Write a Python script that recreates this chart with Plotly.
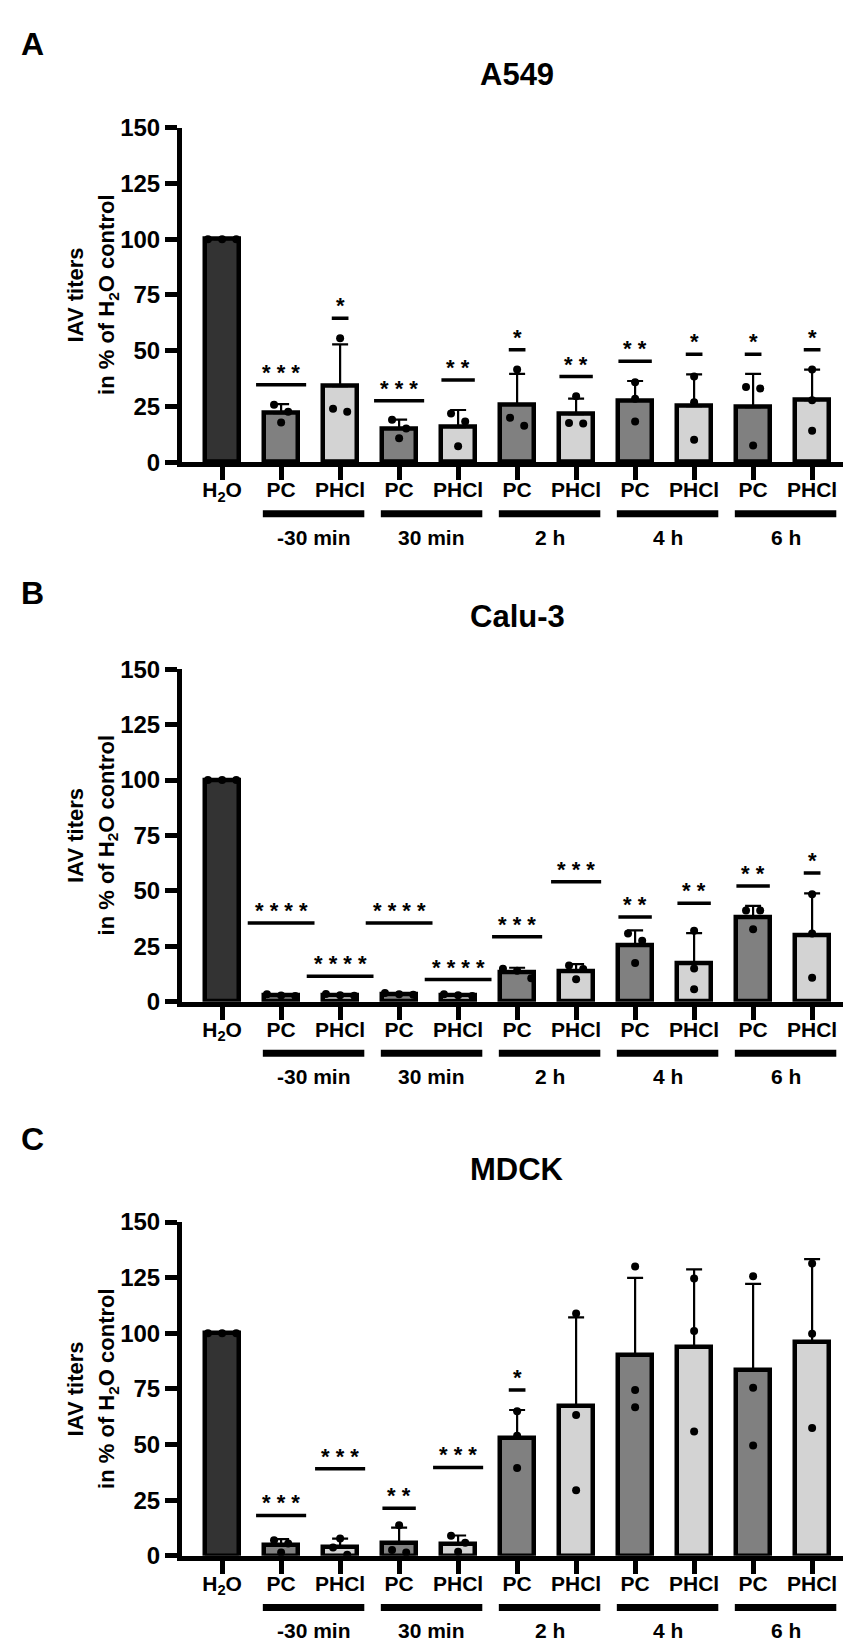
import plotly.graph_objects as go

# categories / labels
tick_labels = ["H<sub>2</sub>O"] + ["PC", "PHCl"] * 5
time_groups = ["-30 min", "30 min", "2 h", "4 h", "6 h"]
panel_titles = ["A549", "Calu-3", "MDCK"]
panel_letters = ["A", "B", "C"]

# A549 (% of H2O control)
a549_mean = [100, 22.0, 34.1, 14.9, 15.7, 25.9, 21.5, 27.5, 25.1, 24.7, 27.8]
a549_sd = [0, 4.0, 18.7, 4.2, 7.7, 13.7, 7.0, 8.9, 14.3, 14.9, 13.7]
a549_points = [
    [100, 100, 100], [25.7, 22.6, 17.8], [55.6, 22.6, 24.0], [19.0, 15.1, 10.7],
    [21.8, 18.2, 7.1], [41.6, 19.9, 16.3], [29.6, 17.3, 17.6], [35.9, 28.4, 18.2],
    [38.4, 26.9, 10.0], [33.7, 33.0, 7.5], [41.6, 27.8, 14.1],
]
a549_sig_y = [None, 34.7, 64.5, 27.6, 36.8, 50.4, 38.4, 45.3, 48.4, 48.4, 50.4]
a549_sig = ["", "***", "*", "***", "**", "*", "**", "**", "*", "*", "*"]

# Calu-3
calu3_mean = [100, 3.0, 3.0, 3.5, 3.0, 13.1, 13.7, 25.3, 17.5, 38.3, 30.0]
calu3_sd = [0, 0.4, 0.4, 0.4, 0.4, 2.2, 3.2, 6.9, 13.4, 4.9, 18.9]
calu3_points = [
    [100, 100, 100], [3.4, 2.8, 2.6], [3.5, 2.9, 2.7], [3.9, 3.4, 3.1],
    [3.4, 2.9, 2.6], [14.9, 14.0, 10.6], [16.3, 14.8, 10.1], [30.8, 27.5, 17.5],
    [32.0, 15.0, 5.6], [41.1, 41.1, 32.7], [48.5, 30.8, 10.8],
]
calu3_sig_y = [None, 35.5, 11.5, 35.5, 10.0, 29.3, 54.1, 38.2, 44.4, 52.2, 58.1]
calu3_sig = ["", "****", "****", "****", "****", "***", "***", "**", "**", "**", "*"]

# MDCK
mdck_mean = [100, 4.7, 4.0, 5.9, 5.5, 52.7, 67.2, 90.4, 93.8, 83.5, 96.2]
mdck_sd = [0, 2.8, 3.7, 6.7, 3.6, 12.8, 39.9, 34.5, 34.9, 38.7, 37.1]
mdck_points = [
    [100, 100, 100], [7.0, 5.5, 1.5], [7.8, 3.7, 0.5], [13.7, 2.6, 1.5],
    [9.0, 5.8, 1.8], [64.9, 53.9, 39.4], [108.9, 63.3, 29.4], [130.0, 74.5, 66.7],
    [124.6, 101.0, 55.9], [125.6, 75.5, 49.5], [131.4, 99.8, 57.4],
]
mdck_sig_y = [None, 18.1, 39.1, 21.3, 39.7, 74.5, None, None, None, None, None]
mdck_sig = ["", "***", "***", "**", "***", "*", "", "", "", "", ""]

panels = [
    (a549_mean, a549_sd, a549_points, a549_sig_y, a549_sig),
    (calu3_mean, calu3_sd, calu3_points, calu3_sig_y, calu3_sig),
    (mdck_mean, mdck_sd, mdck_points, mdck_sig_y, mdck_sig),
]

# layout constants (pixels in the 851x1648 page)
W, H = 851, 1648
ML, MR = 174, 5
PW = W - ML - MR
zero_px = [447.5, 996, 1559.3]
top_px = [107.5, 658, 1220]
letter_px = [22, 581, 1136]
XR = [-0.68, 10.71]
FONT = "Liberation Sans, Arial, sans-serif"
fills = ["#333333"] + ["#808080", "#d3d3d3"] * 5


def px_x(px):
    """page pixel -> paper x"""
    return (px - ML) / PW


def cat_dom(x):
    """category position -> x domain fraction"""
    return (x - XR[0]) / (XR[1] - XR[0])


def spread(vals, tol=4.0, step=0.24):
    """Horizontal offsets for dots that would overlap."""
    order = sorted(range(len(vals)), key=lambda k: -vals[k])
    offs = [0.0] * len(vals)
    clusters = []
    for k in order:
        if clusters and vals[clusters[-1][-1]] - vals[k] < tol:
            clusters[-1].append(k)
        else:
            clusters.append([k])
    for c in clusters:
        for j, k in enumerate(c):
            offs[k] = (j - (len(c) - 1) / 2) * step
    return offs


fig = go.Figure()
shapes = []
annotations = []
xs = list(range(len(tick_labels)))

for p, (mean, sd, points, sig_y, sig) in enumerate(panels):
    sfx = "" if p == 0 else str(p + 1)
    xref, yref = "x" + sfx, "y" + sfx
    dom = yref + " domain"

    fig.add_trace(go.Bar(
        x=xs, y=mean, width=0.57, xaxis=xref, yaxis=yref,
        marker=dict(color=fills, line=dict(color="black", width=4.5)),
        error_y=dict(type="data", symmetric=False, array=sd, arrayminus=[0] * len(sd),
                     color="black", thickness=2.2, width=8),
        showlegend=False, hoverinfo="skip",
    ))

    px_, py_ = [], []
    for i, vals in enumerate(points):
        for off, v in zip(spread(vals), vals):
            px_.append(i + off)
            py_.append(v)
    fig.add_trace(go.Scatter(
        x=px_, y=py_, mode="markers", xaxis=xref, yaxis=yref,
        marker=dict(color="black", size=8), showlegend=False, hoverinfo="skip",
    ))

    # significance lines and stars
    for i, (ly, s) in enumerate(zip(sig_y, sig)):
        if not s:
            continue
        half = len(s) * 0.1415
        shapes.append(dict(type="line", xref=xref, yref=yref, x0=i - half, x1=i + half,
                           y0=ly, y1=ly, line=dict(color="black", width=3.5)))
        annotations.append(dict(xref=xref, yref=yref, x=i, y=ly, text=" ".join(s),
                                showarrow=False, yanchor="bottom", yshift=-2,
                                font=dict(family=FONT, size=22, color="black", weight="bold")))

    # time group bars under the PC / PHCl pairs
    line_y = 1 - (zero_px[p] + 52.5) / H
    for g, name in enumerate(time_groups):
        mid = 1.5 + 2 * g + 0.05
        shapes.append(dict(type="line", xref="x domain" if p == 0 else "x%d domain" % (p + 1),
                           yref="paper", x0=cat_dom(mid - 0.86), x1=cat_dom(mid + 0.86),
                           y0=line_y, y1=line_y, line=dict(color="black", width=7)))
        annotations.append(dict(xref=xref, yref=yref, x=mid, y=0, yshift=-75,
                                text=name, showarrow=False, yanchor="middle",
                                font=dict(family=FONT, size=21, color="black", weight="bold")))

    # titles, panel letter, y title
    annotations.append(dict(xref="paper", yref=dom, x=px_x(509), y=1, yshift=53,
                            text=panel_titles[p], showarrow=False, yanchor="middle",
                            font=dict(family=FONT, size=31, color="black", weight="bold")))
    annotations.append(dict(xref="paper", yref="paper", x=px_x(11), y=1 - letter_px[p] / H,
                            text=panel_letters[p], showarrow=False, xanchor="left",
                            yanchor="middle",
                            font=dict(family=FONT, size=32, color="black", weight="bold")))
    for lx, line in [(53, "IAV titers"), (84, "in % of H<sub>2</sub>O control")]:
        annotations.append(dict(xref="paper", yref=dom, x=px_x(lx), y=0.5, text=line,
                                textangle=-90, showarrow=False,
                                font=dict(family=FONT, size=22, color="black", weight="bold")))

    axis_common = dict(showline=True, linecolor="black", linewidth=5, ticks="outside",
                       tickcolor="black", tickwidth=5, showgrid=False, zeroline=False,
                       fixedrange=True)
    fig.update_layout(**{
        "xaxis" + sfx: dict(axis_common, anchor=yref, domain=[0, 1], range=XR,
                            tickvals=xs, ticktext=tick_labels, ticklen=13,
                            ticklabelstandoff=-8,
                            tickfont=dict(family=FONT, size=21, color="black", weight="bold")),
        "yaxis" + sfx: dict(axis_common, anchor=xref,
                            domain=[1 - zero_px[p] / H, 1 - top_px[p] / H],
                            range=[0, 150], tickvals=list(range(0, 151, 25)), ticklen=12,
                            tickfont=dict(family=FONT, size=24, color="black", weight="bold")),
    })

fig.update_layout(
    width=W, height=H, margin=dict(l=ML, r=MR, t=0, b=0),
    paper_bgcolor="white", plot_bgcolor="white",
    shapes=shapes, annotations=annotations, bargap=0,
)

fig.write_html("out.html")
